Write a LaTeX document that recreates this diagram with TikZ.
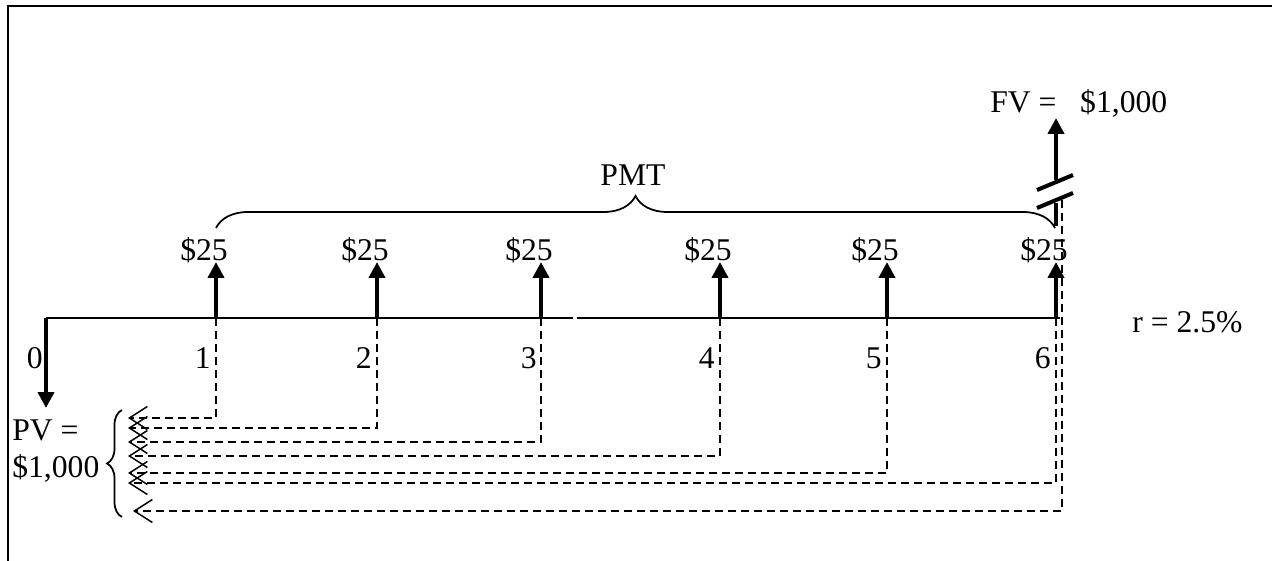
\documentclass[tikz,border=0pt]{standalone}
\usepackage{fontspec}
\setmainfont{Liberation Serif}
\usetikzlibrary{arrows.meta,decorations.pathreplacing}
\begin{document}
\begin{tikzpicture}[x=0.02cm,y=-0.02cm,
  lbl/.style={inner sep=0pt,font=\fontsize{18}{21}\selectfont},
  flow/.style={line width=2.3pt,-{Triangle[length=0.32cm,width=0.32cm]}},
  thick line/.style={line width=2.3pt},
  axis/.style={line width=1.1pt},
  guide/.style={line width=0.85pt,dash pattern=on 0.16cm off 0.1cm},
  link/.style={guide,-{Straight Barb[length=0.36cm,width=0.46cm,line width=0.85pt]}},
  bracestyle/.style={line width=1pt,decorate},
  frame/.style={line width=1.4pt}]
\useasboundingbox (0,0) rectangle (1272,561);
\draw[frame] (8,561) -- (8,6) -- (1272,6);

% timeline
\coordinate (t0) at (46,318);
\coordinate (t1) at (216,318);
\coordinate (t2) at (377,318);
\coordinate (t3) at (541,318);
\coordinate (t4) at (720,318);
\coordinate (t5) at (887,318);
\coordinate (t6) at (1056,318);
\coordinate (tend) at (1060,318);
\coordinate (g1) at (573,318);
\coordinate (g2) at (577,318);
\draw[axis] (t0) -- (g1);
\draw[axis] (g2) -- (tend);

% period numbers
\node[lbl,anchor=base east] (n0) at (43,368) {0};
\node[lbl,anchor=base east] (n1) at (211,368) {1};
\node[lbl,anchor=base east] (n2) at (372,368) {2};
\node[lbl,anchor=base east] (n3) at (537,368) {3};
\node[lbl,anchor=base east] (n4) at (715,368) {4};
\node[lbl,anchor=base east] (n5) at (882,368) {5};
\node[lbl,anchor=base east] (n6) at (1051,368) {6};

% PV arrow
\coordinate (pv) at (46,408);
\draw[flow] (t0) -- (pv);

% payment arrows
\coordinate (a1) at (216,262);
\coordinate (a2) at (377,262);
\coordinate (a3) at (541,262);
\coordinate (a4) at (720,262);
\coordinate (a5) at (887,262);
\coordinate (a6) at (1056,262);
\foreach \i in {1,...,6} { \draw[flow] (t\i) -- (a\i); }

\node[lbl,anchor=base] (c1) at (204,260) {\$25};
\node[lbl,anchor=base] (c2) at (365,260) {\$25};
\node[lbl,anchor=base] (c3) at (529,260) {\$25};
\node[lbl,anchor=base] (c4) at (708,260) {\$25};
\node[lbl,anchor=base] (c5) at (875,260) {\$25};
\node[lbl,anchor=base] (c6) at (1044,260) {\$25};

% PMT brace
\coordinate (pb1) at (216,228);
\coordinate (pb2) at (1055,228);
\draw[bracestyle,decoration={brace,amplitude=0.64cm}] (pb1) -- (pb2);
\node[lbl,anchor=base] (pmt) at (633,185) {PMT};

% FV arrow with break
\coordinate (fb) at (1056,180);
\coordinate (fv) at (1056,118);
\draw[flow] (fb) -- (fv);
\coordinate (fs1) at (1056,203);
\coordinate (fs2) at (1056,226);
\draw[thick line] (fs1) -- (fs2);
\coordinate (k1a) at (1037,190);
\coordinate (k1b) at (1073,175);
\coordinate (k2a) at (1037,208);
\coordinate (k2b) at (1073,193);
\draw[thick line] (k1a) -- (k1b);
\draw[thick line] (k2a) -- (k2b);
\node[lbl,anchor=base west] (fvt) at (990,112) {FV =\hspace{0.5em} \$1,000};

\node[lbl,anchor=base west] (rate) at (1132,332) {r = 2.5\%};

% discounting lines
\coordinate (d1) at (216,418); \coordinate (e1) at (128,418);
\coordinate (d2) at (377,428); \coordinate (e2) at (128,428);
\coordinate (d3) at (541,442); \coordinate (e3) at (128,442);
\coordinate (d4) at (720,456); \coordinate (e4) at (128,456);
\coordinate (d5) at (887,473); \coordinate (e5) at (128,473);
\coordinate (d6) at (1056,483); \coordinate (e6) at (128,483);
\foreach \i in {1,...,6} { \draw[link] (t\i) -- (d\i) -- (e\i); }
\coordinate (f0) at (1062,200);
\coordinate (f1) at (1062,511);
\coordinate (f2) at (133,511);
\draw[link] (f0) -- (f1) -- (f2);

% PV brace and label
\coordinate (vb1) at (122,517);
\coordinate (vb2) at (122,410);
\draw[bracestyle,decoration={brace,amplitude=0.3cm}] (vb1) -- (vb2);
\node[lbl,anchor=base west] (pvt) at (12,440) {PV =};
\node[lbl,anchor=base west] (pvv) at (12,477) {\$1,000};
\end{tikzpicture}
\end{document}
